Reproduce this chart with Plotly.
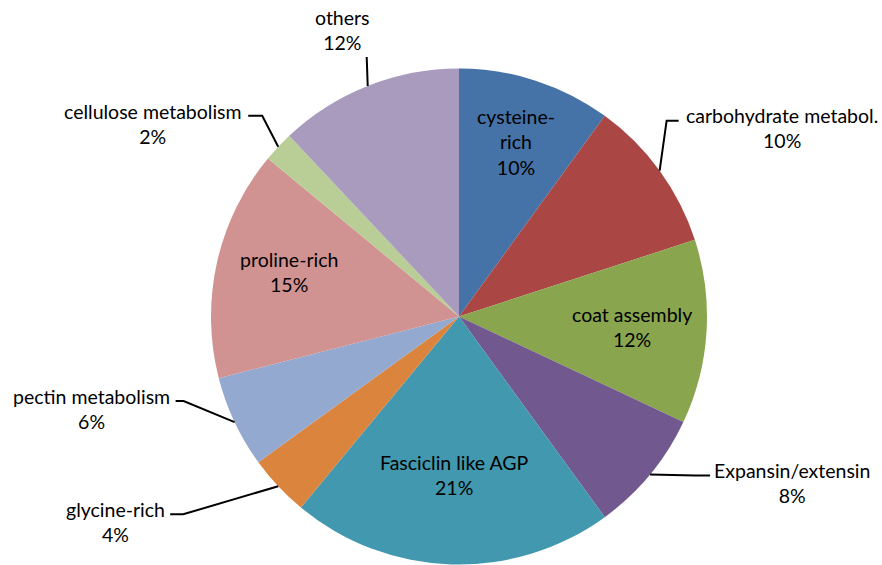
import math
import plotly.graph_objects as go

# ---- data -------------------------------------------------------------
categories = [
    "cysteine-rich", "carbohydrate metabol.", "coat assembly",
    "Expansin/extensin", "Fasciclin like AGP", "glycine-rich",
    "pectin metabolism", "proline-rich", "cellulose metabolism", "others",
]
shares = [10, 10, 12, 8, 21, 4, 6, 15, 2, 12]
slice_colors = [
    "#4572A7", "#AA4643", "#89A54E", "#71588F", "#4198AF",
    "#DB843D", "#93A9CF", "#D19392", "#B9CD96", "#A99BBD",
]
# how each category name is broken onto lines in its label
label_names = [
    "cysteine-<br>rich", "carbohydrate metabol.", "coat assembly",
    "Expansin/extensin", "Fasciclin like AGP", "glycine-rich",
    "pectin metabolism", "proline-rich", "cellulose metabolism", "others",
]

# ---- page geometry (pixels) ------------------------------------------
W, H = 882, 565
CX, CY, R = 459.0, 316.5, 248.0
FONT = dict(family="Lato, 'Open Sans', sans-serif", size=19.5, color="#000000")

# labels drawn inside their slice: (fraction of the radius, angle nudge in deg)
inside_style = {
    "cysteine-rich": (0.74, 0.0),
    "coat assembly": (0.70, 0.0),
    "Fasciclin like AGP": (0.64, 0.0),
    "proline-rich": (0.71, 2.0),
}
# labels drawn outside: leader elbow, leader end and text centre, as pixel
# offsets from the point where the slice's mid-angle meets the rim
outside_style = {
    "carbohydrate metabol.": dict(elbow=(7, -50), end=(19, -50), text=(122, -43)),
    "Expansin/extensin": dict(elbow=(45, 1), end=(60, 1), text=(142, 8)),
    "glycine-rich": dict(elbow=(-95, 28), end=(-108, 28), text=(-163, 36)),
    "pectin metabolism": dict(elbow=(-51, -21), end=(-59, -21), text=(-143, -13)),
    "cellulose metabolism": dict(elbow=(-16, -31), end=(-30, -31), text=(-125, -23)),
    "others": dict(elbow=(-1, -29), end=(-1, -29), text=(-25, -56)),
}


def px(x):
    return x / W


def py(y):
    return 1 - y / H


total = float(sum(shares))

fig = go.Figure(
    go.Pie(
        labels=categories,
        values=shares,
        marker=dict(colors=slice_colors, line=dict(width=0)),
        sort=False,
        direction="clockwise",
        rotation=0,
        textinfo="none",
        hoverinfo="label+percent",
        showlegend=False,
        domain=dict(
            x=[(CX - R) / W, (CX + R) / W],
            y=[max(0.0, (H - (CY + R)) / H), (H - (CY - R)) / H],
        ),
    )
)

annotations = []
shapes = []
cum = 0.0
for name, val, disp in zip(categories, shares, label_names):
    mid = (cum + val / 2.0) / total * 2 * math.pi  # clockwise from 12 o'clock
    cum += val
    pct = f"{round(100 * val / total)}%"
    text = f"{disp}<br>{pct}"
    if name in inside_style:
        f, nudge = inside_style[name]
        a = mid + math.radians(nudge)
        tx, ty = CX + f * R * math.sin(a), CY - f * R * math.cos(a)
    else:
        st = outside_style[name]
        ax, ay = CX + R * math.sin(mid), CY - R * math.cos(mid)
        ex, ey = ax + st["elbow"][0], ay + st["elbow"][1]
        nx, ny = ax + st["end"][0], ay + st["end"][1]
        tx, ty = ax + st["text"][0], ay + st["text"][1]
        shapes.append(dict(
            type="path", xref="paper", yref="paper",
            path=f"M {px(ax)},{py(ay)} L {px(ex)},{py(ey)} L {px(nx)},{py(ny)}",
            line=dict(color="#000000", width=2),
        ))
    annotations.append(dict(
        x=px(tx), y=py(ty), xref="paper", yref="paper",
        text=text, showarrow=False, xanchor="center", yanchor="middle",
        align="center", font=FONT,
    ))

fig.update_layout(
    width=W, height=H,
    margin=dict(l=0, r=0, t=0, b=0),
    paper_bgcolor="#FFFFFF", plot_bgcolor="#FFFFFF",
    annotations=annotations, shapes=shapes,
)

fig.write_html("out.html")
